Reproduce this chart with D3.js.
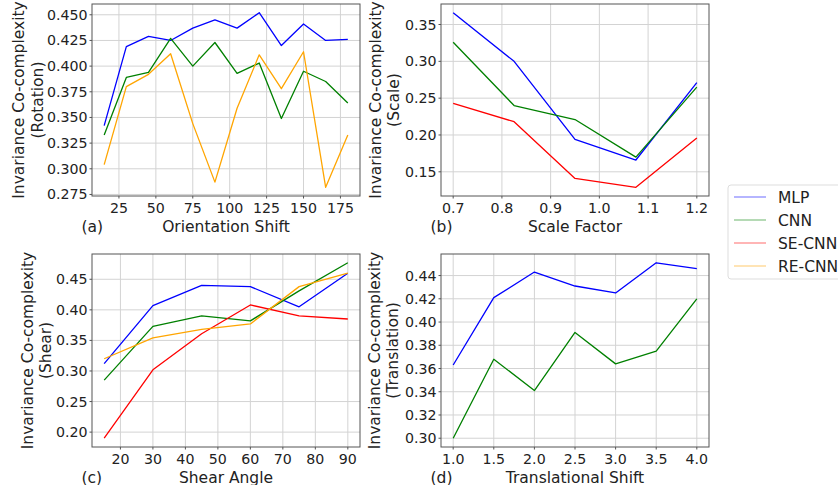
<!DOCTYPE html>
<html>
<head>
<meta charset="utf-8">
<script src="https://cdn.jsdelivr.net/npm/d3@7"></script>
<style>
  html, body { margin: 0; padding: 0; background: #fff; }
  svg { display: block; font-family: "DejaVu Sans", sans-serif; }
</style>
</head>
<body>
<svg id="chart" width="838" height="485"></svg>
<script>
// Series names and colours (matplotlib b / g / r / orange)
const seriesNames = ["MLP", "CNN", "SE-CNN", "RE-CNN"];
const seriesColors = ["#0000ff", "#008000", "#ff0000", "#ffa500"];

// (a) rotation
const rotX = [15, 30, 45, 60, 75, 90, 105, 120, 135, 150, 165, 180];
const rotMLP = [0.342, 0.419, 0.429, 0.425, 0.437, 0.445, 0.437, 0.452, 0.420, 0.441, 0.425, 0.426];
const rotCNN = [0.333, 0.389, 0.394, 0.427, 0.400, 0.423, 0.393, 0.403, 0.349, 0.395, 0.385, 0.364];
const rotRE = [0.304, 0.380, 0.392, 0.412, 0.344, 0.287, 0.359, 0.411, 0.378, 0.414, 0.282, 0.333];
const rotXTicks = [25, 50, 75, 100, 125, 150, 175];
const rotYTicks = [0.275, 0.300, 0.325, 0.350, 0.375, 0.400, 0.425, 0.450];

// (b) scale
const scaleX = [0.7, 0.825, 0.95, 1.075, 1.2];
const scaleMLP = [0.366, 0.300, 0.194, 0.166, 0.271];
const scaleCNN = [0.326, 0.240, 0.221, 0.170, 0.265];
const scaleSE = [0.243, 0.218, 0.141, 0.129, 0.196];
const scaleXTicks = [0.7, 0.8, 0.9, 1.0, 1.1, 1.2];
const scaleYTicks = [0.15, 0.20, 0.25, 0.30, 0.35];

// (c) shear
const shearX = [15, 30, 45, 60, 75, 90];
const shearMLP = [0.312, 0.407, 0.440, 0.438, 0.405, 0.460];
const shearCNN = [0.285, 0.373, 0.390, 0.382, 0.431, 0.477];
const shearSE = [0.190, 0.302, 0.361, 0.408, 0.390, 0.385];
const shearRE = [0.320, 0.354, 0.368, 0.377, 0.438, 0.460];
const shearXTicks = [20, 30, 40, 50, 60, 70, 80, 90];
const shearYTicks = [0.20, 0.25, 0.30, 0.35, 0.40, 0.45];

// (d) translation
const transX = [1.0, 1.5, 2.0, 2.5, 3.0, 3.5, 4.0];
const transMLP = [0.363, 0.421, 0.443, 0.431, 0.425, 0.451, 0.446];
const transCNN = [0.300, 0.368, 0.341, 0.391, 0.364, 0.375, 0.420];
const transXTicks = [1.0, 1.5, 2.0, 2.5, 3.0, 3.5, 4.0];
const transYTicks = [0.30, 0.32, 0.34, 0.36, 0.38, 0.40, 0.42, 0.44];

const svg = d3.select("#chart");
const TICK_FS = 14.2, LABEL_FS = 15.5;

const panels = [
  { box: [92, 360, 4, 196], xs: rotX, series: [rotMLP, rotCNN, null, rotRE],
    xt: rotXTicks, yt: rotYTicks, xf: d3.format("d"), yf: d3.format(".3f"),
    tag: "(a)", xlab: "Orientation Shift", ylab: ["Invariance Co-complexity", "(Rotation)"], ylx: [18, 37.5] },
  { box: [441, 709, 4, 196], xs: scaleX, series: [scaleMLP, scaleCNN, scaleSE, null],
    xt: scaleXTicks, yt: scaleYTicks, xf: d3.format(".1f"), yf: d3.format(".2f"),
    tag: "(b)", xlab: "Scale Factor", ylab: ["Invariance Co-complexity", "(Scale)"], ylx: [375, 393.5] },
  { box: [92, 360, 254, 447], xs: shearX, series: [shearMLP, shearCNN, shearSE, shearRE],
    xt: shearXTicks, yt: shearYTicks, xf: d3.format("d"), yf: d3.format(".2f"),
    tag: "(c)", xlab: "Shear Angle", ylab: ["Invariance Co-complexity", "(Shear)"], ylx: [27, 45.5] },
  { box: [441, 709, 254, 447], xs: transX, series: [transMLP, transCNN, null, null],
    xt: transXTicks, yt: transYTicks, xf: d3.format(".1f"), yf: d3.format(".2f"),
    tag: "(d)", xlab: "Translational Shift", ylab: ["Invariance Co-complexity", "(Translation)"], ylx: [374, 392.5] },
];

// matplotlib-style 5% margins
function padded(vals) {
  const [a, b] = d3.extent(vals);
  const p = (b - a) * 0.05;
  return [a - p, b + p];
}

for (const p of panels) {
  const [l, r, t, b] = p.box;
  const x = d3.scaleLinear().domain(padded(p.xs)).range([l, r]);
  const allY = p.series.filter(Boolean).flat();
  const y = d3.scaleLinear().domain(padded(allY)).range([b, t]);
  const g = svg.append("g");

  // grid
  g.selectAll(null).data(p.xt).join("line")
    .attr("x1", d => x(d)).attr("x2", d => x(d)).attr("y1", t).attr("y2", b)
    .attr("stroke", "#d3d3d3").attr("stroke-width", 1);
  g.selectAll(null).data(p.yt).join("line")
    .attr("y1", d => y(d)).attr("y2", d => y(d)).attr("x1", l).attr("x2", r)
    .attr("stroke", "#d3d3d3").attr("stroke-width", 1);

  // lines
  p.series.forEach((s, i) => {
    if (!s) return;
    g.append("path").datum(s)
      .attr("fill", "none").attr("stroke", seriesColors[i]).attr("stroke-width", 1.3)
      .attr("stroke-linejoin", "round")
      .attr("d", d3.line().x((d, j) => x(p.xs[j])).y(d => y(d)));
  });

  // frame
  g.append("rect").attr("x", l).attr("y", t).attr("width", r - l).attr("height", b - t)
    .attr("fill", "none").attr("stroke", "#555").attr("stroke-width", 1);

  // ticks
  g.selectAll(null).data(p.xt).join("line")
    .attr("x1", d => x(d)).attr("x2", d => x(d)).attr("y1", b).attr("y2", b + 2.5)
    .attr("stroke", "#555");
  g.selectAll(null).data(p.yt).join("line")
    .attr("y1", d => y(d)).attr("y2", d => y(d)).attr("x1", l - 2.5).attr("x2", l)
    .attr("stroke", "#555");
  g.selectAll(null).data(p.xt).join("text")
    .attr("x", d => x(d)).attr("y", b + 17).attr("text-anchor", "middle")
    .attr("font-size", TICK_FS).attr("fill", "#222").text(d => p.xf(d));
  g.selectAll(null).data(p.yt).join("text")
    .attr("x", l - 4.5).attr("y", d => y(d) + 5).attr("text-anchor", "end")
    .attr("font-size", TICK_FS).attr("fill", "#222").text(d => p.yf(d));

  // labels
  g.append("text").attr("x", (l + r) / 2).attr("y", b + 35.5).attr("text-anchor", "middle")
    .attr("font-size", LABEL_FS).attr("fill", "#222").text(p.xlab);
  g.append("text").attr("x", l - 10.5).attr("y", b + 35.5)
    .attr("font-size", LABEL_FS).attr("fill", "#222").text(p.tag);
  const cy = (t + b) / 2;
  p.ylab.forEach((txt, k) => {
    g.append("text").attr("transform", `translate(${p.ylx[k] + 5.5},${cy}) rotate(-90)`)
      .attr("text-anchor", "middle").attr("font-size", LABEL_FS).attr("fill", "#222").text(txt);
  });
}

// legend
const lg = svg.append("g");
lg.append("rect").attr("x", 728).attr("y", 185).attr("width", 130).attr("height", 94)
  .attr("rx", 3).attr("fill", "#fff").attr("stroke", "#ddd").attr("stroke-width", 1);
seriesNames.forEach((name, i) => {
  const yy = 197 + i * 23;
  lg.append("line").attr("x1", 734).attr("x2", 766).attr("y1", yy).attr("y2", yy)
    .attr("stroke", seriesColors[i]).attr("stroke-opacity", 0.45).attr("stroke-width", 1.3);
  lg.append("text").attr("x", 778).attr("y", yy + 5.5).attr("font-size", LABEL_FS)
    .attr("fill", "#222").text(name);
});
</script>
</body>
</html>
